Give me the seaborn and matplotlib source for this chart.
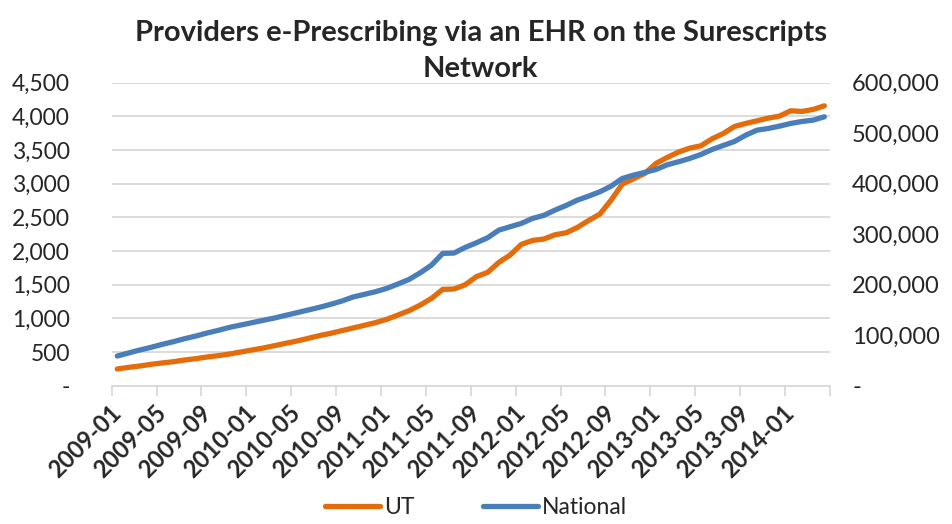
import numpy as np
import pandas as pd
import matplotlib.pyplot as plt
import seaborn as sns
from matplotlib.ticker import FuncFormatter, FixedLocator

# Monthly categories, 2009-01 .. 2014-04
months = [p.strftime('%Y-%m') for p in pd.period_range('2009-01', '2014-04', freq='M')]
tick_labels = ['2009-01', '2009-05', '2009-09', '2010-01', '2010-05', '2010-09',
               '2011-01', '2011-05', '2011-09', '2012-01', '2012-05', '2012-09',
               '2013-01', '2013-05', '2013-09', '2014-01']

# Utah providers (left axis)
ut = [248, 272, 292, 317, 337, 356, 381, 401, 426, 446,
      470, 500, 530, 559, 594, 629, 663, 703, 743, 777,
      817, 856, 896, 936, 985, 1049, 1114, 1198, 1297, 1431,
      1436, 1500, 1620, 1683, 1832, 1940, 2099, 2158, 2178, 2242,
      2272, 2351, 2455, 2549, 2757, 2995, 3074, 3153, 3302, 3391,
      3470, 3529, 3564, 3668, 3747, 3851, 3896, 3935, 3975, 4005,
      4084, 4074, 4104, 4158]

# National providers (right axis)
national = [58700, 64700, 70600, 75900, 81800, 87100, 93100, 98300, 104300, 109600,
            115500, 120100, 124700, 129400, 134000, 139300, 144500, 149800, 155100, 161000,
            167600, 175600, 180800, 186100, 192700, 201300, 210500, 223700, 238900, 262000,
            262700, 273900, 283100, 293000, 308200, 314800, 321400, 331300, 337300, 347800,
            357100, 367600, 375500, 384100, 395300, 410500, 417100, 422400, 428300, 437600,
            443500, 450100, 458000, 467900, 475900, 483800, 496300, 506200, 509500, 514100,
            519400, 523400, 526000, 532600]

df = pd.DataFrame({'month': months, 'UT': ut, 'National': national})
df['pos'] = np.arange(len(df))

sns.set_style('white')
plt.rcParams['font.family'] = ['Lato', 'DejaVu Sans']

orange = '#E46C0A'
blue = '#4A7EBB'
grid_col = '#D9D9D9'

fig = plt.figure(figsize=(9.52, 5.24), dpi=100)
ax = fig.add_axes([0.1173, 0.264, 0.7545, 0.578])

sns.lineplot(data=df, x='pos', y='UT', ax=ax, color=orange, linewidth=3.8,
             solid_capstyle='round', solid_joinstyle='round', legend=False)
ax2 = ax.twinx()
sns.lineplot(data=df, x='pos', y='National', ax=ax2, color=blue, linewidth=3.8,
             solid_capstyle='round', solid_joinstyle='round', legend=False)

# Left axis
ax.set_ylim(0, 4500)
ax.set_yticks(np.arange(0, 4501, 500))
ax.yaxis.set_major_formatter(FuncFormatter(lambda v, p: '-' if v == 0 else f'{int(v):,}'))
ax.yaxis.grid(True, color=grid_col, linewidth=1.3)
ax.set_axisbelow(True)

# Right axis
ax2.set_ylim(0, 600000)
ax2.set_yticks(np.arange(0, 600001, 100000))
ax2.yaxis.set_major_formatter(FuncFormatter(lambda v, p: '-' if v == 0 else f'{int(v):,}'))
ax2.grid(False)

# Category x axis
ax.set_xlim(-0.5, len(months) - 0.5)
ax.set_xticks(np.arange(0, len(months), 4))
ax.set_xticklabels(tick_labels, rotation=45, ha='right', va='center',
                   rotation_mode='anchor', fontweight='bold', fontsize=17)
ax.xaxis.set_minor_locator(FixedLocator(np.arange(-0.5, len(months), 4)))
ax.tick_params(axis='x', which='major', length=0, pad=17)
ax.tick_params(axis='x', which='minor', length=7, width=1.3, color=grid_col, bottom=True)
ax.tick_params(axis='y', length=0, pad=30, labelsize=16.5)
ax2.tick_params(axis='y', length=0, pad=16, labelsize=17)
ax.set_xlabel('')
ax.set_ylabel('')
ax2.set_ylabel('')

for s in ['top', 'left', 'right']:
    ax.spines[s].set_visible(False)
ax.spines['bottom'].set_color(grid_col)
ax.spines['bottom'].set_linewidth(1.3)
for s in ax2.spines.values():
    s.set_visible(False)

fig.text(0.505, 0.903, 'Providers e-Prescribing via an EHR on the Surescripts\nNetwork',
         ha='center', va='center', fontsize=21, fontweight='bold', linespacing=1.5)

handles = [ax.get_lines()[0], ax2.get_lines()[0]]
fig.legend(handles, ['UT', 'National'], loc='center', bbox_to_anchor=(0.5, 1 - 508 / 524),
           ncol=2, frameon=False, fontsize=16.5, handlelength=2.4, handletextpad=0.15,
           columnspacing=3.0)

fig.savefig('out.png', dpi=100)
